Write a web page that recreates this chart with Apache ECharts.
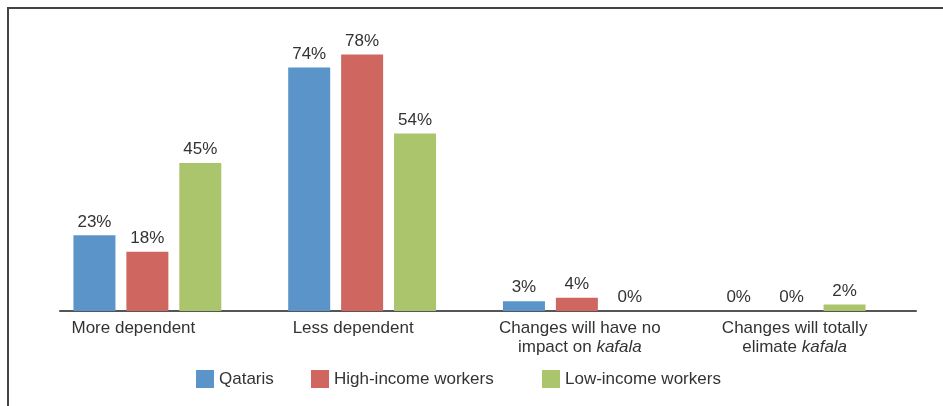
<!DOCTYPE html>
<html>
<head>
<meta charset="utf-8">
<script src="https://cdn.jsdelivr.net/npm/echarts@6/dist/echarts.min.js"></script>
<style>
html,body{margin:0;padding:0;background:#fff;}
#chart{width:943px;height:406px;}
</style>
</head>
<body>
<div id="chart"></div>
<script>
// ---- data ----
const categories = [
  'More dependent',
  'Less dependent',
  'Changes will have no\nimpact on kafala',
  'Changes will totally\nelimate kafala'
];
const seriesNames = ['Qataris', 'High-income workers', 'Low-income workers'];
const qataris = [23, 74, 3, 0];
const highIncome = [18, 78, 4, 0];
const lowIncome = [45, 54, 0, 2];

// ---- style ----
const colors = ['#5B94C8', '#CF6660', '#ABC56D'];
const FONT = 'Liberation Sans, Arial, sans-serif';
const TXT = '#333333';
const labelShift = [-14, -9, 3, 3]; // horizontal nudge of category labels (px)

const rich = {};
labelShift.forEach((s, i) => {
  rich['p' + i] = {
    fontSize: 17, fontFamily: FONT, color: TXT, lineHeight: 19,
    padding: s < 0 ? [0, -2 * s, 0, 0] : [0, 0, 0, 2 * s]
  };
});
rich.a = {fontSize: 17, fontFamily: FONT, color: TXT, lineHeight: 19};
rich.i = {fontSize: 17, fontFamily: FONT, color: TXT, lineHeight: 19, fontStyle: 'italic'};

function fmtCategory(value, index) {
  const idx = categories.indexOf(value);
  const k = idx >= 0 ? idx : index;
  return value.split('\n').map(line => {
    const parts = line.split('kafala');
    if (parts.length > 1) {
      return '{p' + k + '|' + parts[0] + '}{i|kafala}' + (parts[1] ? '{a|' + parts[1] + '}' : '');
    }
    return '{p' + k + '|' + line + '}';
  }).join('\n');
}

const chart = echarts.init(document.getElementById('chart'), null, {renderer: 'canvas'});

const mkSeries = (name, data, color) => ({
  name: name,
  type: 'bar',
  xAxisIndex: 0,
  yAxisIndex: 0,
  data: data,
  barWidth: 42,
  barGap: '26%',
  itemStyle: {color: color},
  label: {
    show: true,
    position: 'top',
    distance: 5,
    formatter: p => p.value + '%',
    color: TXT,
    fontSize: 17,
    fontFamily: FONT
  },
  emphasis: {disabled: true},
  animation: false
});

const legendBase = (name, left) => ({
  data: [name],
  left: left,
  top: 370,
  icon: 'rect',
  itemWidth: 18,
  itemHeight: 18,
  itemGap: 0,
  padding: 0,
  textStyle: {color: TXT, fontSize: 17, fontFamily: FONT},
  selectedMode: false
});

chart.setOption({
  animation: false,
  backgroundColor: '#ffffff',
  textStyle: {fontFamily: FONT},
  grid: [
    {left: 40, right: 44, top: 15, bottom: 95, containLabel: false},
    {left: 60, right: 27, top: 15, bottom: 95, containLabel: false}
  ],
  xAxis: [
    {
      type: 'category',
      gridIndex: 0,
      data: categories,
      axisLine: {show: false},
      axisTick: {show: false},
      axisLabel: {
        interval: 0,
        margin: 8,
        color: TXT,
        formatter: fmtCategory,
        rich: rich
      }
    },
    {
      type: 'category',
      gridIndex: 1,
      data: ['', '', '', ''],
      axisLine: {show: true, lineStyle: {color: '#555555', width: 2}},
      axisTick: {show: false},
      axisLabel: {show: false}
    }
  ],
  yAxis: [
    {type: 'value', gridIndex: 0, min: 0, max: 90, show: false, splitLine: {show: false}},
    {type: 'value', gridIndex: 1, min: 0, max: 90, show: false, splitLine: {show: false}}
  ],
  legend: [
    legendBase(seriesNames[0], 196),
    legendBase(seriesNames[1], 311),
    legendBase(seriesNames[2], 542)
  ],
  series: [
    mkSeries(seriesNames[0], qataris, colors[0]),
    mkSeries(seriesNames[1], highIncome, colors[1]),
    mkSeries(seriesNames[2], lowIncome, colors[2])
  ],
  graphic: [
    {
      type: 'polyline',
      silent: true,
      shape: {points: [[8, 406], [8, 8], [943, 8]]},
      style: {stroke: '#444444', lineWidth: 2, fill: null}
    }
  ]
});
</script>
</body>
</html>
